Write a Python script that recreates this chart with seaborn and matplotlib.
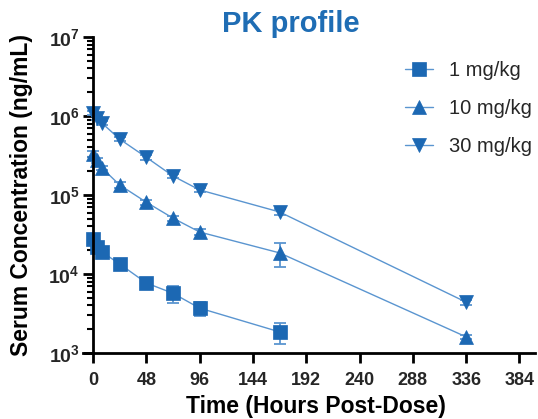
import numpy as np
import pandas as pd
import matplotlib
matplotlib.use("Agg")
import matplotlib.pyplot as plt
from matplotlib.ticker import FixedLocator, FixedFormatter, LogLocator, NullFormatter
import seaborn as sns

# ---- data ----
time_h = [0.25, 4, 8, 24, 48, 72, 96, 168, 336]
conc_1mg = [28000, 22000, 19000, 13400, 7700, 5700, 3700, 1850]
sd_1mg = [1500, 1200, 900, 700, 500, 1450, 780, 550]
conc_10mg = [330000, 275000, 220000, 134000, 81000, 51000, 34000, 18500, 1600]
sd_10mg = [30000, 20000, 15000, 10000, 6000, 4000, 3000, 6300, 100]
conc_30mg = [1090000, 940000, 815000, 510000, 300000, 174000, 116000, 61000, 4400]
sd_30mg = [60000, 50000, 40000, 30000, 20000, 12000, 8000, 5000, 300]
labels = ["1 mg/kg", "10 mg/kg", "30 mg/kg"]
x_ticks = [0, 48, 96, 144, 192, 240, 288, 336, 384]
y_ticks = [1e3, 1e4, 1e5, 1e6, 1e7]
y_tick_labels = [r"$\mathbf{10^{3}}$", r"$\mathbf{10^{4}}$", r"$\mathbf{10^{5}}$",
                 r"$\mathbf{10^{6}}$", r"$\mathbf{10^{7}}$"]

# ---- style ----
sns.set_style("ticks")
plt.rcParams["font.family"] = ["Liberation Sans", "DejaVu Sans"]
plt.rcParams["mathtext.fontset"] = "custom"
plt.rcParams["mathtext.rm"] = "Liberation Sans:bold"
plt.rcParams["mathtext.bf"] = "Liberation Sans:bold"
plt.rcParams["mathtext.it"] = "Liberation Sans:bold"

marker_col = "#1c68b3"
line_col = "#5a95d0"
err_col = "#5a95d0"
title_col = "#1f6db4"

W, H = 538, 419
fig = plt.figure(figsize=(W / 100, H / 100), dpi=100)
ax = fig.add_axes([83 / W, 66 / H, 452 / W, 316 / H])

series = [
    (labels[0], time_h[:len(conc_1mg)], conc_1mg, sd_1mg, "s"),
    (labels[1], time_h, conc_10mg, sd_10mg, "^"),
    (labels[2], time_h, conc_30mg, sd_30mg, "v"),
]

for lab, t, c, sd, mk in series:
    ax.errorbar(t, c, yerr=sd, fmt="none", ecolor=err_col, elinewidth=1.3,
                capsize=4.5, capthick=1.3, zorder=1)
    df = pd.DataFrame({"Time": t, "Conc": c})
    sns.lineplot(data=df, x="Time", y="Conc", ax=ax, marker=mk, markersize=9.5,
                 color=line_col, linewidth=1.0, markerfacecolor=marker_col,
                 markeredgecolor=marker_col, markeredgewidth=0.5,
                 label=lab, errorbar=None, estimator=None, zorder=2)

ax.set_yscale("log")
ax.set_xlim(-9, 398)
ax.set_ylim(1e3, 1e7)

ax.xaxis.set_major_locator(FixedLocator(x_ticks))
ax.set_xticklabels([str(v) for v in x_ticks])
ax.yaxis.set_major_locator(FixedLocator(y_ticks))
ax.yaxis.set_major_formatter(FixedFormatter(y_tick_labels))
ax.yaxis.set_minor_locator(LogLocator(base=10, subs=np.arange(2, 10)))
ax.yaxis.set_minor_formatter(NullFormatter())

for s in ["top", "right"]:
    ax.spines[s].set_visible(False)
ax.spines["left"].set_position(("data", 0))
for s in ["left", "bottom"]:
    ax.spines[s].set_linewidth(2.0)
    ax.spines[s].set_color("black")

ax.tick_params(axis="x", which="major", direction="out", length=7, width=2,
               color="black", labelsize=13, pad=6.5)
ax.tick_params(axis="y", which="major", direction="out", length=7, width=2,
               color="black", labelsize=14, pad=2.5)
ax.tick_params(axis="y", which="minor", direction="out", length=4.5, width=1.5,
               color="black")
for lbl in ax.get_xticklabels():
    lbl.set_fontweight("bold")

ax.set_xlabel("")
ax.set_ylabel("")
ax.grid(False)

fig.text(291 / W, 1 - 24 / H, "PK profile", ha="center", va="center",
         fontsize=21, fontweight="bold", color=title_col)
fig.text(316 / W, 1 - 413 / H, "Time (Hours Post-Dose)", ha="center",
         va="baseline", fontsize=16.5, fontweight="bold", color="black")
fig.text(22 / W, 1 - 195 / H, "Serum Concentration (ng/mL)", ha="center",
         va="center", rotation=90, fontsize=16.5, fontweight="bold", color="black")

ax.legend(loc="upper left", bbox_to_anchor=(405 / W, 1 - 61 / H),
          bbox_transform=fig.transFigure, frameon=False, fontsize=14.5,
          handlelength=1.4, handletextpad=0.8, labelspacing=0.95,
          borderpad=0, borderaxespad=0)

fig.savefig("out.png", dpi=100)
